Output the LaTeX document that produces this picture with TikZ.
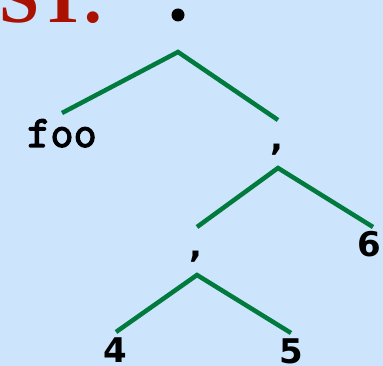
\documentclass[tikz,border=0pt]{standalone}
\usepackage{fontspec}
\setmainfont{Liberation Serif}
\newfontfamily\digfnt{DejaVu Sans}
\newfontfamily\foofnt{Latin Modern Mono}[FakeBold=3]
\definecolor{bgblue}{RGB}{204,228,252}
\definecolor{treegreen}{RGB}{0,122,61}
\definecolor{astred}{RGB}{170,17,0}
\tikzset{
  edge/.style={draw=treegreen, line width=4.5pt},
  codelbl/.style={inner sep=0pt, anchor=base, font=\foofnt\fontsize{45}{45}\selectfont},
  diglbl/.style={inner sep=0pt, anchor=base, font=\digfnt\bfseries\fontsize{34}{34}\selectfont},
}
\begin{document}
\begin{tikzpicture}[x=1pt,y=-1pt]
\fill[bgblue] (0,0) rectangle (383,366);
\useasboundingbox (0,0) rectangle (383,366);
\begin{scope}
\clip (0,0) rectangle (383,366);
\node[anchor=base east, inner sep=0pt, text=astred, font=\bfseries\fontsize{72}{72}\selectfont] (ast) at (106,22.5) {AST:};
\end{scope}
\node[circle, fill=black, inner sep=0pt, minimum size=13pt] (root) at (178,15) {};
% apexes and branch ends
\coordinate (a1) at (178,52);
\coordinate (a1l) at (62,113);
\coordinate (a1r) at (278,120);
\coordinate (a2) at (278,168);
\coordinate (a2l) at (197,227);
\coordinate (a2r) at (373,227);
\coordinate (a3) at (197,275);
\coordinate (a3l) at (116,332);
\coordinate (a3r) at (291,333);
\draw[edge] (a1l) -- (a1) -- (a1r);
\draw[edge] (a2l) -- (a2) -- (a2r);
\draw[edge] (a3l) -- (a3) -- (a3r);
% labels
\node[codelbl] (foo) at (62,147) {foo};
\node[diglbl] (c1) at (277,151) {,};
\node[diglbl] (c2) at (196,258) {,};
\node[diglbl] (six) at (369,257) {6};
\node[diglbl] (four) at (115,362) {4};
\node[diglbl] (five) at (291,363) {5};
\end{tikzpicture}
\end{document}
